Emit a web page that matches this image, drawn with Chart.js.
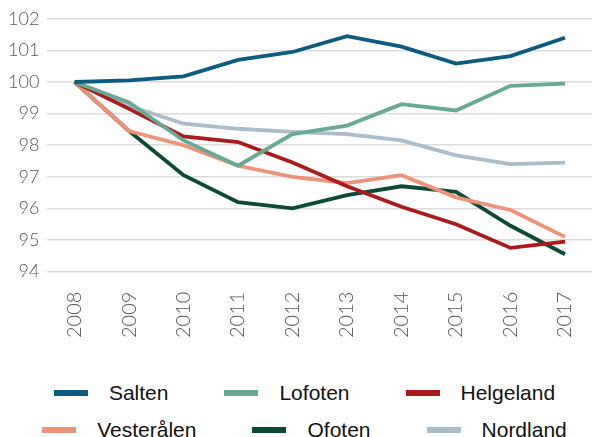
<!DOCTYPE html>
<html>
<head>
<meta charset="utf-8">
<script src="https://cdn.jsdelivr.net/npm/chart.js@4"></script>
<style>
  html, body { margin: 0; padding: 0; background: #fff; }
  #page { width: 609px; height: 437px; position: relative; overflow: hidden; }
  #wrap { width: 609px; height: 358px; position: absolute; left: 0; top: 0; }
  #legend { position: absolute; left: 0; top: 374px; width: 609px;
            font-family: 'Liberation Sans', Arial, sans-serif; font-size: 21px; color: #111; }
  .row { display: flex; justify-content: center; gap: 56px; height: 37px; align-items: center; }
  .item { display: flex; align-items: center; white-space: nowrap; }
  .swatch { width: 34px; height: 6px; margin-right: 21px; }
</style>
</head>
<body>
<div id="page">
  <div id="wrap"><canvas id="graph"></canvas></div>
  <div id="legend"></div>
</div>
<script>
// années
const years = ["2008", "2009", "2010", "2011", "2012", "2013", "2014", "2015", "2016", "2017"];

// indeks, 2008 = 100
const salten     = [100, 100.05, 100.18, 100.7, 100.95, 101.45, 101.12, 100.58, 100.82, 101.4];
const lofoten    = [100, 99.35, 98.15, 97.35, 98.35, 98.62, 99.3, 99.1, 99.88, 99.95];
const helgeland  = [100, 99.15, 98.28, 98.1, 97.45, 96.7, 96.05, 95.5, 94.75, 94.95];
const vesteralen = [100, 98.45, 98.0, 97.35, 97.0, 96.8, 97.05, 96.35, 95.95, 95.1];
const ofoten     = [100, 98.45, 97.05, 96.2, 96.0, 96.42, 96.7, 96.52, 95.45, 94.55];
const nordland   = [100, 99.25, 98.68, 98.52, 98.42, 98.35, 98.15, 97.68, 97.4, 97.45];

const yMin = 94, yMax = 102;

function serie(label, data, color) {
  return {
    label: label,
    data: data,
    borderColor: color,
    backgroundColor: color,
    borderWidth: 3.8,
    pointRadius: 0,
    tension: 0,
    fill: false
  };
}

const chart = new Chart(document.getElementById("graph"), {
  type: 'line',
  data: {
    labels: years,
    datasets: [
      serie('Salten', salten, '#0b5c82'),
      serie('Lofoten', lofoten, '#67a993'),
      serie('Helgeland', helgeland, '#ac1a1c'),
      serie('Vesterålen', vesteralen, '#f0917a'),
      serie('Ofoten', ofoten, '#0b4b35'),
      serie('Nordland', nordland, '#aabdc9')
    ]
  },
  options: {
    responsive: true,
    maintainAspectRatio: false,
    animation: false,
    layout: { padding: { left: 0, right: 0, top: 8, bottom: 0 } },
    plugins: {
      tooltip: { enabled: false },
      legend: { display: false }
    },
    scales: {
      x: {
        offset: true,
        grid: { display: false, drawTicks: false },
        border: { display: false },
        ticks: {
          minRotation: 90,
          maxRotation: 90,
          padding: 20,
          color: '#555',
          font: { family: 'Lato', size: 20, weight: '300' }
        }
      },
      y: {
        min: yMin,
        max: yMax,
        grid: { color: '#dcdcdc', lineWidth: 1.5, drawTicks: false },
        border: { display: false },
        ticks: {
          stepSize: 1,
          padding: 8,
          color: '#555',
          font: { family: 'Lato', size: 18, weight: '300' }
        }
      }
    }
  }
});

// légende en deux lignes de trois
const legend = document.getElementById("legend");
const ds = chart.data.datasets;
[ds.slice(0, 3), ds.slice(3, 6)].forEach(group => {
  const row = document.createElement("div");
  row.className = "row";
  group.forEach(d => {
    const item = document.createElement("div");
    item.className = "item";
    const sw = document.createElement("span");
    sw.className = "swatch";
    sw.style.background = d.borderColor;
    const txt = document.createElement("span");
    txt.innerText = d.label;
    item.appendChild(sw);
    item.appendChild(txt);
    row.appendChild(item);
  });
  legend.appendChild(row);
});
</script>
</body>
</html>
